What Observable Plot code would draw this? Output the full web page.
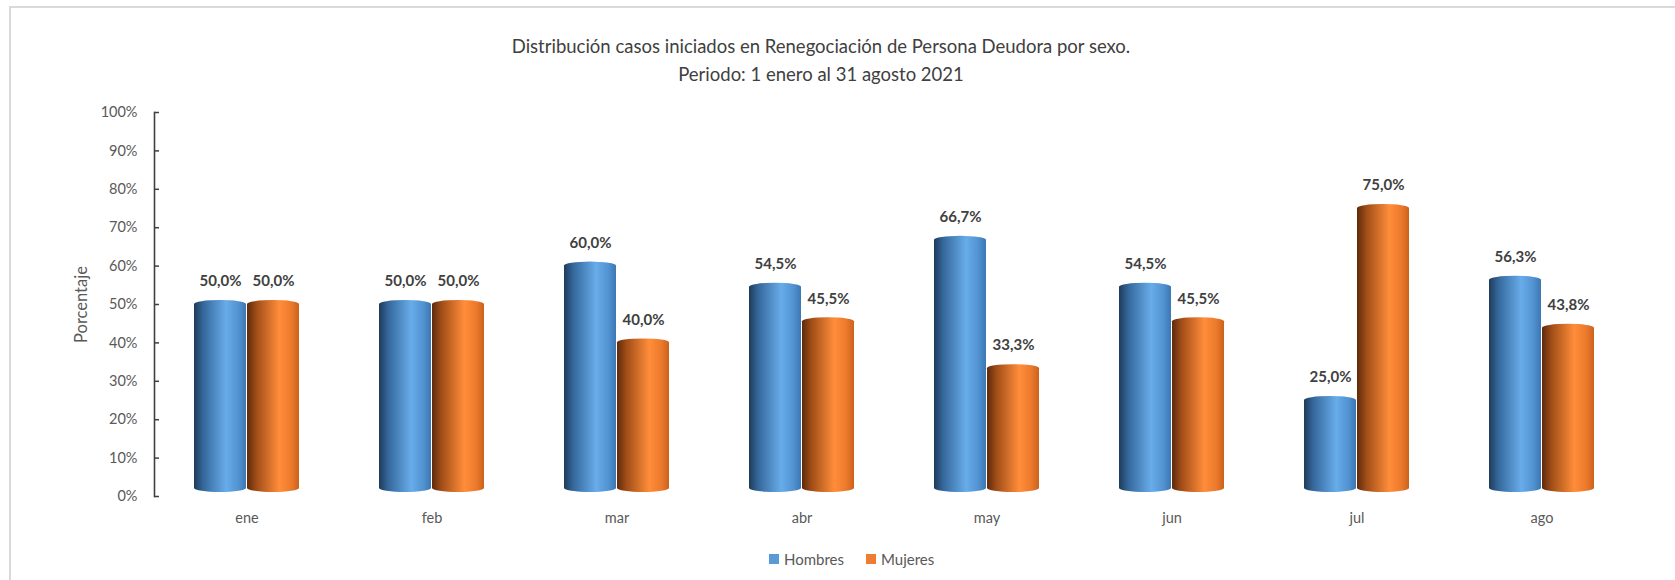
<!DOCTYPE html>
<html>
<head>
<meta charset="utf-8">
<script src="https://cdn.jsdelivr.net/npm/d3@7"></script>
<script src="https://cdn.jsdelivr.net/npm/@observablehq/plot@0.6"></script>
<style>
  body { margin: 0; background: #fff; font-family: Lato, "Open Sans", sans-serif; }
  #wrap { position: relative; width: 1675px; height: 580px; overflow: hidden; background: #fff; }
  #border { position: absolute; left: 9px; top: 6px; width: 2000px; height: 1000px;
            border-left: 2px solid #d9d9d9; border-top: 2px solid #d9d9d9; pointer-events: none; }
  #title { position: relative; height: 95px; }
  #title div { position: absolute; left: 0; width: 1642px; text-align: center; color: #404040;
               font-size: 18.5px; line-height: 28px; }
  #chart { height: 445px; }
  #legend { position: relative; height: 40px; }
  .item { position: absolute; top: 10px; display: flex; align-items: center; color: #595959; font-size: 15px; }
  .sw { width: 10px; height: 10px; margin-right: 5px; }
</style>
</head>
<body>
<div id="wrap">
  <div id="border"></div>
  <div id="title">
    <div style="top:32px">Distribución casos iniciados en Renegociación de Persona Deudora por sexo.</div>
    <div style="top:60px">Periodo: 1 enero al 31 agosto 2021</div>
  </div>
  <div id="chart"></div>
  <div id="legend"></div>
</div>
<script>
// ---- data ----
const months = ["ene", "feb", "mar", "abr", "may", "jun", "jul", "ago"];
const series = ["Hombres", "Mujeres"];
const hombres = [50.0, 50.0, 60.0, 54.5, 66.7, 54.5, 25.0, 56.3];
const mujeres = [50.0, 50.0, 40.0, 45.5, 33.3, 45.5, 75.0, 43.8];
const yTicks = [0, 10, 20, 30, 40, 50, 60, 70, 80, 90, 100];
const seriesColors = ["#5b9bd5", "#ed7d31"];

const dataH = months.map((m, i) => ({month: m, sexo: series[0], value: hombres[i]}));
const dataM = months.map((m, i) => ({month: m, sexo: series[1], value: mujeres[i]}));
const fmt = v => v.toFixed(1).replace(".", ",") + "%";

const labelStyle = {fill: "#404040", fontWeight: "bold", fontSize: 15};

const plot = Plot.plot({
  width: 1675,
  height: 445,
  marginLeft: 154,
  marginRight: 41,
  marginTop: 17,
  marginBottom: 44,
  style: {fontFamily: "Lato, 'Open Sans', sans-serif", background: "transparent"},
  x: {domain: months, padding: 0, label: null},
  y: {domain: [0, 100], label: null},
  marks: [
    Plot.barY(dataH, {x: "month", y: "value", fill: "url(#gBlue)", insetLeft: 40, insetRight: 93, rx: 26, ry: 4, dy: -4}),
    Plot.barY(dataM, {x: "month", y: "value", fill: "url(#gOrange)", insetLeft: 93, insetRight: 40, rx: 26, ry: 4, dy: -4}),
    Plot.text(dataH, {x: "month", y: "value", text: d => fmt(d.value), dx: -26.5, dy: -23, ...labelStyle}),
    Plot.text(dataM, {x: "month", y: "value", text: d => fmt(d.value), dx: 26.5, dy: -23, ...labelStyle}),
    Plot.axisY({ticks: yTicks, tickFormat: d => d + "%", tickSize: 0, tickPadding: 17, fontSize: 14.5, color: "#595959", label: null}),
    Plot.axisY({ticks: [], fontSize: 16.5, color: "#595959",
                label: "Porcentaje", labelAnchor: "center", labelArrow: "none", labelOffset: 79}),
    Plot.axisY({ticks: yTicks, tickFormat: () => "", tickSize: 5, dx: 5, stroke: "#404040", strokeWidth: 1.5, label: null}),
    Plot.frame({anchor: "left", stroke: "#404040", strokeWidth: 1.6}),
    Plot.axisX({tickSize: 0, tickPadding: 16, fontSize: 14.5, color: "#595959", label: null})
  ]
});

// gradients for cylinder look
const defs = document.createElementNS("http://www.w3.org/2000/svg", "defs");
defs.innerHTML = `
  <linearGradient id="gBlue" x1="0" x2="1" y1="0" y2="0">
    <stop offset="0" stop-color="#1f3b5a"/>
    <stop offset="0.18" stop-color="#35689c"/>
    <stop offset="0.62" stop-color="#68acea"/>
    <stop offset="0.85" stop-color="#5293d2"/>
    <stop offset="1" stop-color="#3b77b3"/>
  </linearGradient>
  <linearGradient id="gOrange" x1="0" x2="1" y1="0" y2="0">
    <stop offset="0" stop-color="#5e2a0c"/>
    <stop offset="0.18" stop-color="#a04d17"/>
    <stop offset="0.62" stop-color="#ff8d3a"/>
    <stop offset="0.85" stop-color="#ec7a2c"/>
    <stop offset="1" stop-color="#cc621d"/>
  </linearGradient>`;
plot.insertBefore(defs, plot.firstChild);
document.getElementById("chart").appendChild(plot);

// legend
const legend = document.getElementById("legend");
const lefts = [769, 866];
series.forEach((s, i) => {
  const it = document.createElement("div");
  it.className = "item";
  it.style.left = lefts[i] + "px";
  it.innerHTML = `<span class="sw" style="background:${seriesColors[i]}"></span><span>${s}</span>`;
  legend.appendChild(it);
});
</script>
</body>
</html>
